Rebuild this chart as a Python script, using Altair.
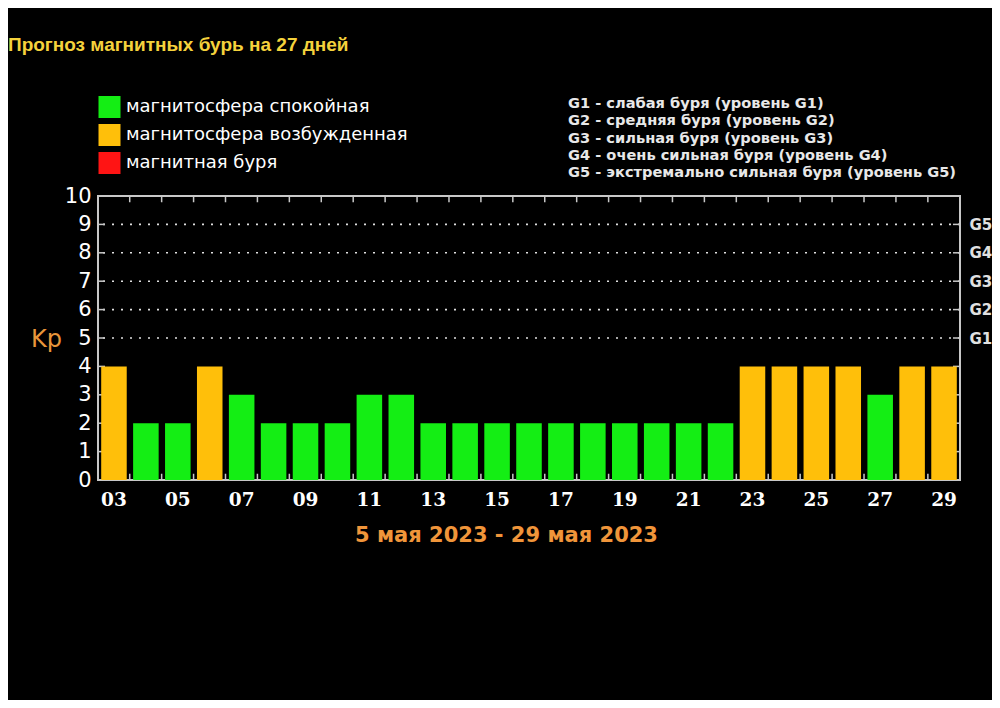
import altair as alt
import pandas as pd

# ---- data ----
days = ["03", "04", "05", "06", "07", "08", "09", "10", "11", "12", "13", "14", "15", "16",
        "17", "18", "19", "20", "21", "22", "23", "24", "25", "26", "27", "28", "29"]
kp = [4, 2, 2, 4, 3, 2, 2, 2, 3, 3, 2, 2, 2, 2, 2, 2, 2, 2, 2, 2, 4, 4, 4, 4, 3, 4, 4]
state = ["возб", "спок", "спок", "возб", "спок", "спок", "спок", "спок", "спок", "спок",
         "спок", "спок", "спок", "спок", "спок", "спок", "спок", "спок", "спок", "спок",
         "возб", "возб", "возб", "возб", "спок", "возб", "возб"]
state_keys = ["спок", "возб", "буря"]
state_colors = ["#14ee14", "#ffbf0a", "#ff1414"]
legend_labels = ["магнитосфера спокойная", "магнитосфера возбужденная", "магнитная буря"]
g_levels = [5, 6, 7, 8, 9]
g_notes = ["G1 - слабая буря (уровень G1)",
           "G2 - средняя буря (уровень G2)",
           "G3 - сильная буря (уровень G3)",
           "G4 - очень сильная буря (уровень G4)",
           "G5 - экстремально сильная буря (уровень G5)"]
y_ticks = list(range(0, 11))
title_text = "Прогноз магнитных бурь на 27 дней"
date_range = "5 мая 2023 - 29 мая 2023"

W, H = 862, 284
FRAME = "#c8c8c8"
YDOM = alt.Scale(domain=[0, 10])
XSC = alt.Scale(paddingInner=0.2, paddingOuter=0.1)

df = pd.DataFrame({"day": days, "kp": kp, "state": state})

bars = alt.Chart(df).mark_bar().encode(
    x=alt.X("day:N", sort=days, scale=XSC, axis=alt.Axis(
        labelExpr="parseInt(datum.value) % 2 == 1 ? datum.value : ''",
        labelColor="white", labelFont="DejaVu Serif", labelFontWeight="bold",
        labelFontSize=18.5, labelAngle=0, labelPadding=10, ticks=False, domain=False,
        title=date_range, titleColor="#f0953a", titleFont="DejaVu Sans",
        titleFontWeight="bold", titleFontSize=21, titleX=408, titleY=55,
        titleAlign="center", titleBaseline="middle")),
    y=alt.Y("kp:Q", scale=YDOM, axis=alt.Axis(
        values=y_ticks, labelColor="white", labelFont="DejaVu Sans", labelFontSize=21,
        labelPadding=7, ticks=False, domain=False, grid=False,
        title="Kp", titleColor="#e8953a", titleFont="DejaVu Sans",
        titleFontWeight="normal", titleFontSize=24, titleAngle=0, titleX=-52, titleY=143,
        titleAlign="center", titleBaseline="middle")),
    color=alt.Color("state:N", scale=alt.Scale(domain=state_keys, range=state_colors), legend=None),
)

gdf = pd.DataFrame({"g": g_levels})
grid = alt.Chart(gdf).mark_rule(color="#e0e0e0", strokeDash=[2, 7], strokeWidth=1.6).encode(
    y=alt.Y("g:Q", scale=YDOM, axis=alt.Axis(
        orient="right", values=g_levels, labelExpr="'G' + (datum.value - 4)",
        labelColor="#e0e0e0", labelFont="DejaVu Sans", labelFontWeight="bold",
        labelFontSize=15, labelPadding=9, ticks=False, domain=False, grid=False, title=None)),
)

tdf = pd.DataFrame({"v": y_ticks[1:-1]})
left_ticks = alt.Chart(tdf).mark_rule(color=FRAME, strokeWidth=1.5).encode(
    y=alt.Y("v:Q", scale=YDOM, axis=None), x=alt.value(0), x2=alt.value(7))
right_ticks = alt.Chart(tdf).mark_rule(color=FRAME, strokeWidth=1.5).encode(
    y=alt.Y("v:Q", scale=YDOM, axis=None), x=alt.value(W - 7), x2=alt.value(W))

bdf = pd.DataFrame({"day": days[1:]})
bottom_ticks = alt.Chart(bdf).mark_rule(color=FRAME, strokeWidth=1.5, xOffset=-3.4).encode(
    x=alt.X("day:N", sort=days, scale=XSC, bandPosition=0, axis=None),
    y=alt.Y(datum=0, scale=YDOM, axis=None), y2=alt.datum(0.22))
top_ticks = alt.Chart(bdf).mark_rule(color=FRAME, strokeWidth=1.5, xOffset=-3.4).encode(
    x=alt.X("day:N", sort=days, scale=XSC, bandPosition=0, axis=None),
    y=alt.Y(datum=9.78, scale=YDOM, axis=None), y2=alt.datum(10))

layers = [grid, left_ticks, right_ticks, bottom_ticks, top_ticks, bars]

# title
layers.append(alt.Chart(pd.DataFrame({"t": [title_text]})).mark_text(
    align="left", baseline="middle", font="Liberation Sans", fontWeight="bold",
    fontSize=19, color="#f5d23c").encode(x=alt.value(-90), y=alt.value(-151), text="t:N"))

# legend
for i, (lab, col) in enumerate(zip(legend_labels, state_colors)):
    yy = -89 + 28 * i
    layers.append(alt.Chart(pd.DataFrame({"t": [lab]})).mark_square(
        size=484, color=col, opacity=1, filled=True).encode(x=alt.value(11.5), y=alt.value(yy)))
    layers.append(alt.Chart(pd.DataFrame({"t": [lab]})).mark_text(
        align="left", baseline="middle", font="DejaVu Sans", fontSize=18,
        color="white").encode(x=alt.value(28), y=alt.value(yy), text="t:N"))

# G notes
for i, note in enumerate(g_notes):
    layers.append(alt.Chart(pd.DataFrame({"t": [note]})).mark_text(
        align="left", baseline="middle", font="DejaVu Sans", fontWeight="bold",
        fontSize=14.6, color="#e8e8e8").encode(x=alt.value(470), y=alt.value(-92 + 17.3 * i), text="t:N"))

chart = alt.layer(*layers).resolve_axis(y="independent", x="independent").properties(
    width=W, height=H, background="black",
    autosize=alt.AutoSizeParams(type="none"),
    padding={"left": 90, "top": 188, "right": 32, "bottom": 220},
).configure_view(fill="black", stroke=FRAME, strokeWidth=2)

chart.save("out.html", embed_options={"renderer": "svg", "actions": False})
